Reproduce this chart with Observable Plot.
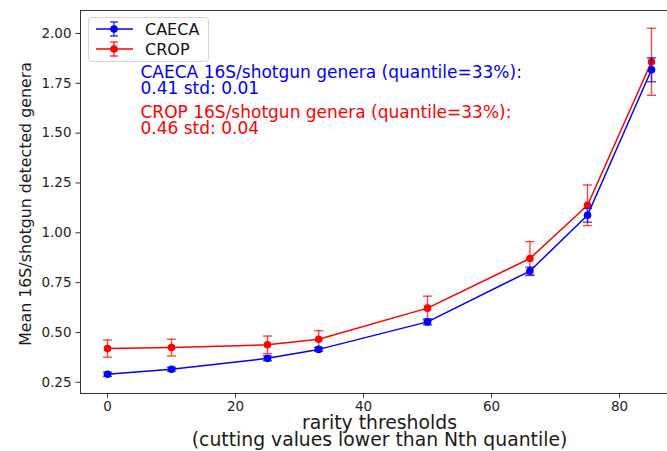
<!DOCTYPE html>
<html>
<head>
<meta charset="utf-8">
<script src="https://cdn.jsdelivr.net/npm/d3@7"></script>
<script src="https://cdn.jsdelivr.net/npm/@observablehq/plot@0.6"></script>
<style>
  body { margin: 0; background: #fff; }
  #wrap { position: relative; width: 667px; height: 451px; font-family: "DejaVu Sans", sans-serif; }
  #legend { position: absolute; left: 88px; top: 17px; width: 121px; height: 45px; border: 1px solid #d4d4d4; border-radius: 4px; background: rgba(255,255,255,0.85); box-sizing: border-box; }
  #legend .item { position: absolute; left: 0; height: 20px; display: flex; align-items: center; }
  #legend .item span { font-size: 16px; color: #111; margin-left: 6px; }
</style>
</head>
<body>
<div id="wrap"></div>
<script>
// ---- data ----
const thresholds = [0, 10, 25, 33, 50, 66, 75, 85];
const seriesNames = ["CAECA", "CROP"];
const seriesColors = ["#0000ff", "#ff0000"];
const caecaMean = [0.290, 0.315, 0.370, 0.415, 0.553, 0.808, 1.088, 1.818];
const caecaStd  = [0.010, 0.010, 0.012, 0.010, 0.015, 0.020, 0.035, 0.060];
const cropMean  = [0.419, 0.424, 0.438, 0.466, 0.622, 0.871, 1.138, 1.858];
const cropStd   = [0.043, 0.042, 0.044, 0.043, 0.060, 0.085, 0.102, 0.168];
const xTicks = [0, 20, 40, 60, 80];
const yTicks = [0.25, 0.5, 0.75, 1.0, 1.25, 1.5, 1.75, 2.0];
const xDomain = [-4.22, 87.5];
const yDomain = [0.1937, 2.1154];
const annotations = [
  "CAECA 16S/shotgun genera (quantile=33%):\n0.41 std: 0.01",
  "CROP 16S/shotgun genera (quantile=33%):\n0.46 std: 0.04"
];
const xLabel = "rarity thresholds\n(cutting values lower than Nth quantile)";
const yLabel = "Mean 16S/shotgun detected genera";

// ---- build table ----
const means = [caecaMean, cropMean];
const stds = [caecaStd, cropStd];
const rows = [];
seriesNames.forEach((name, i) => {
  thresholds.forEach((t, j) => {
    rows.push({series: name, x: t, mean: means[i][j], lo: means[i][j] - stds[i][j], hi: means[i][j] + stds[i][j]});
  });
});

const capSymbol = {
  draw(ctx, size) {
    const r = Math.sqrt(size / Math.PI);
    ctx.moveTo(-r, 0);
    ctx.lineTo(r, 0);
  }
};

// draw CROP first, CAECA on top
const order = [1, 0];
const seriesMarks = order.flatMap(i => {
  const name = seriesNames[i];
  const color = seriesColors[i];
  const d = rows.filter(r => r.series === name);
  return [
    Plot.line(d, {x: "x", y: "mean", stroke: color, strokeWidth: 1.5}),
    Plot.ruleX(d, {x: "x", y1: "lo", y2: "hi", stroke: color, strokeWidth: 1.4, strokeOpacity: 0.72}),
    Plot.dot(d, {x: "x", y: "lo", symbol: capSymbol, r: 4.6, fill: "none", stroke: color, strokeWidth: 1.4, strokeOpacity: 0.72}),
    Plot.dot(d, {x: "x", y: "hi", symbol: capSymbol, r: 4.6, fill: "none", stroke: color, strokeWidth: 1.4, strokeOpacity: 0.72}),
    Plot.dot(d, {x: "x", y: "mean", r: 3.8, fill: color, stroke: "none"})
  ];
});

const plot = Plot.plot({
  width: 667,
  height: 451,
  marginLeft: 80,
  marginRight: 0,
  marginTop: 10,
  marginBottom: 58,
  style: {fontFamily: "DejaVu Sans", fontSize: "13px", color: "#262626", background: "white", overflow: "visible"},
  x: {domain: xDomain, axis: null},
  y: {domain: yDomain, axis: null},
  marks: [
    Plot.axisX(xTicks, {tickSize: 4.5, tickPadding: 3, fontSize: 13.5, stroke: "#333", fill: "#262626", label: null}),
    Plot.axisY(yTicks, {tickSize: 4.5, tickPadding: 4.5, fontSize: 13.5, stroke: "#333", fill: "#262626", tickFormat: d3.format(".2f"), label: null}),
    Plot.ruleX([xDomain[0]], {stroke: "#333", strokeWidth: 1}),
    Plot.ruleY(yDomain, {stroke: "#333", strokeWidth: 1}),
    ...seriesMarks,
    Plot.text([annotations[0]], {text: d => d, frameAnchor: "top-left", dx: 60, dy: 70.5, textAnchor: "start", lineAnchor: "middle", lineHeight: 0.95, fontSize: 17, fill: seriesColors[0]}),
    Plot.text([annotations[1]], {text: d => d, frameAnchor: "top-left", dx: 60, dy: 110, textAnchor: "start", lineAnchor: "middle", lineHeight: 0.95, fontSize: 17, fill: seriesColors[1]}),
    Plot.text([xLabel], {text: d => d, frameAnchor: "bottom", dx: 5.5, dy: 38.5, textAnchor: "middle", lineAnchor: "middle", lineHeight: 0.9, fontSize: 18.8, fill: "#1a1a1a"}),
    Plot.text([yLabel], {text: d => d, frameAnchor: "left", dx: -55, dy: 2, rotate: -90, textAnchor: "middle", lineAnchor: "middle", fontSize: 15.8, fill: "#1a1a1a"})
  ]
});

const wrap = document.getElementById("wrap");
wrap.appendChild(plot);

// legend
const legend = document.createElement("div");
legend.id = "legend";
seriesNames.forEach((name, i) => {
  const item = document.createElement("div");
  item.className = "item";
  item.style.top = (i === 0 ? 1 : 21) + "px";
  const c = seriesColors[i];
  item.innerHTML =
    `<svg width="44" height="20" style="margin-left:6px">
       <line x1="1" x2="38" y1="10" y2="10" stroke="${c}" stroke-width="1.5"/>
       <line x1="19" x2="19" y1="3" y2="17" stroke="${c}" stroke-width="1.4" stroke-opacity="0.8"/>
       <line x1="15" x2="23" y1="3" y2="3" stroke="${c}" stroke-width="1.4" stroke-opacity="0.8"/>
       <line x1="15" x2="23" y1="17" y2="17" stroke="${c}" stroke-width="1.4" stroke-opacity="0.8"/>
       <circle cx="19" cy="10" r="3.8" fill="${c}"/>
     </svg><span>${name}</span>`;
  legend.appendChild(item);
});
wrap.appendChild(legend);
</script>
</body>
</html>
